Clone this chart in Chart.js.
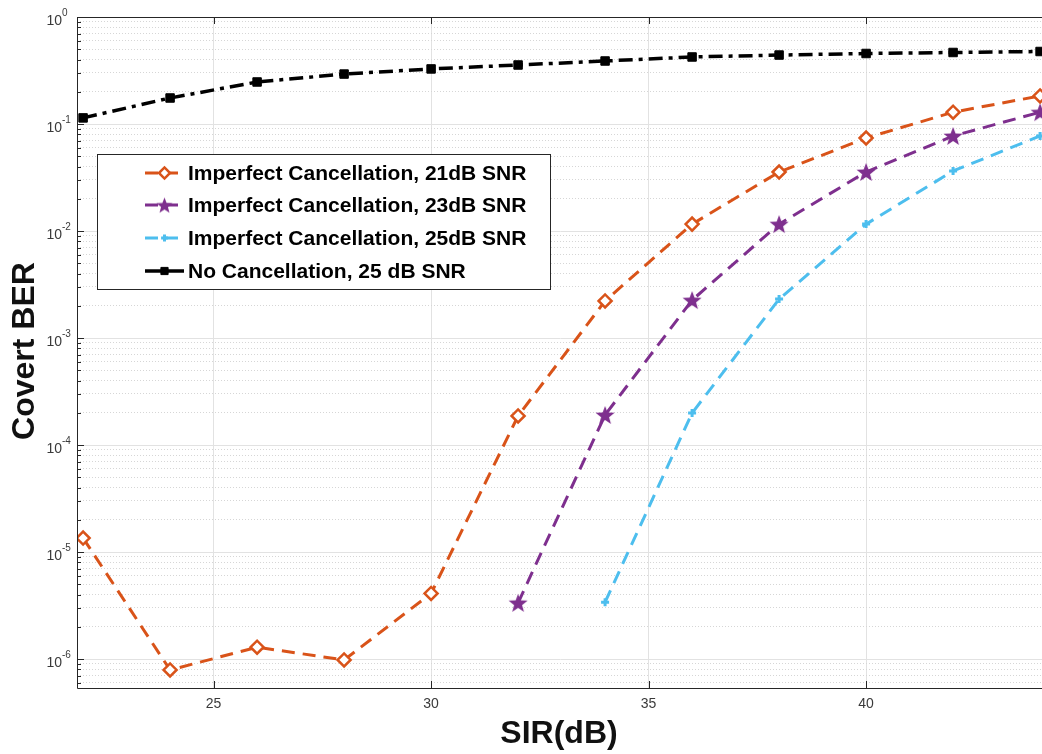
<!DOCTYPE html>
<html>
<head>
<meta charset="utf-8">
<script src="https://cdn.jsdelivr.net/npm/chart.js@4.4.0/dist/chart.umd.min.js"></script>
<style>
  html, body { margin: 0; padding: 0; background: #fff; overflow: hidden; }
</style>
</head>
<body>
<canvas id="ber" width="1044" height="754"></canvas>
<script>
// SIR sweep (dB) and measured covert BER for each receiver setting
const sirDb = [22, 24, 26, 28, 30, 32, 34, 36, 38, 40, 42, 44];
const berImperfect21 = [1.35e-5, 7.9e-7, 1.29e-6, 9.8e-7, 4.1e-6, 1.87e-4, 2.22e-3, 0.0116, 0.0356, 0.074, 0.129, 0.183];
const berImperfect23 = [null, null, null, null, null, 3.35e-6, 1.91e-4, 2.26e-3, 0.0116, 0.0356, 0.0773, 0.129];
const berImperfect25 = [null, null, null, null, null, null, 3.4e-6, 1.99e-4, 2.31e-3, 0.0116, 0.0364, 0.0773];
const berNoCancel = [0.114, 0.175, 0.247, 0.293, 0.327, 0.356, 0.388, 0.423, 0.441, 0.456, 0.466, 0.476];

const seriesLabels = [
    'Imperfect Cancellation, 21dB SNR',
    'Imperfect Cancellation, 23dB SNR',
    'Imperfect Cancellation, 25dB SNR',
    'No Cancellation, 25 dB SNR'
];
const xTickValues = [25, 30, 35, 40];
const yDecades = [-6, -5, -4, -3, -2, -1, 0];

const AXIS_COLOR = '#262626';
const LABEL_COLOR = '#3a3a3a';
const FONT = '"Liberation Sans", Arial, Helvetica, sans-serif';

function toPoints(values) {
    return sirDb.map((x, i) => ({ x: x, y: values[i] })).filter(p => p.y !== null);
}

// filled pentagram used as the 23 dB marker
function starMarker(color, r) {
    const c = document.createElement('canvas');
    const s = Math.ceil(r * 2 + 2);
    c.width = s;
    c.height = s;
    const g = c.getContext('2d');
    g.translate(s / 2, s / 2 + 0.9);
    g.beginPath();
    for (let i = 0; i < 10; i++) {
        const rad = i % 2 ? r * 0.42 : r;
        const a = -Math.PI / 2 + i * Math.PI / 5;
        g.lineTo(rad * Math.cos(a), rad * Math.sin(a));
    }
    g.closePath();
    g.fillStyle = color;
    g.fill();
    return c;
}

const purpleStar = starMarker('#7E2F8E', 10);
const purpleStarSmall = starMarker('#7E2F8E', 8.5);

const datasets = [
    {
        label: seriesLabels[0],
        data: toPoints(berImperfect21),
        borderColor: '#D95319',
        borderWidth: 3,
        borderDash: [13, 8],
        pointStyle: 'rectRot',
        pointRadius: 6.5,
        pointBorderWidth: 2.5,
        pointBorderColor: '#D95319',
        pointBackgroundColor: '#ffffff'
    },
    {
        label: seriesLabels[1],
        data: toPoints(berImperfect23),
        borderColor: '#7E2F8E',
        borderWidth: 3,
        borderDash: [13, 8],
        pointStyle: purpleStar,
        pointRadius: 10,
        pointBorderColor: '#7E2F8E',
        pointBackgroundColor: '#7E2F8E'
    },
    {
        label: seriesLabels[2],
        data: toPoints(berImperfect25),
        borderColor: '#4DBEEE',
        borderWidth: 3,
        borderDash: [13, 8],
        pointStyle: 'cross',
        pointRadius: 4,
        pointBorderWidth: 3,
        pointBorderColor: '#4DBEEE',
        pointBackgroundColor: '#4DBEEE'
    },
    {
        label: seriesLabels[3],
        data: toPoints(berNoCancel),
        borderColor: '#000000',
        borderWidth: 3.5,
        borderDash: [14, 6, 4, 6],
        pointStyle: 'rect',
        pointRadius: 6,
        pointBorderWidth: 1,
        pointBorderColor: '#000000',
        pointBackgroundColor: '#000000'
    }
];

// box, inward ticks, tick labels and titles in the MATLAB look
const axesFrame = {
    id: 'axesFrame',
    afterDraw(chart) {
        const ctx = chart.ctx;
        const area = chart.chartArea;
        const xs = chart.scales.x;
        const ys = chart.scales.y;
        ctx.save();

        ctx.strokeStyle = AXIS_COLOR;
        ctx.lineWidth = 1;
        ctx.setLineDash([]);
        ctx.beginPath();
        ctx.moveTo(area.left + 0.5, area.bottom + 0.5);
        ctx.lineTo(area.left + 0.5, area.top + 0.5);
        ctx.lineTo(area.right + 0.5, area.top + 0.5);
        ctx.moveTo(area.left + 0.5, area.bottom + 0.5);
        ctx.lineTo(area.right + 0.5, area.bottom + 0.5);
        ctx.stroke();

        ctx.beginPath();
        ys.ticks.forEach(t => {
            const py = Math.round(ys.getPixelForValue(t.value)) + 0.5;
            const len = t.major ? 7 : 4;
            ctx.moveTo(area.left, py);
            ctx.lineTo(area.left + len, py);
        });
        xTickValues.forEach(v => {
            const px = Math.round(xs.getPixelForValue(v)) + 0.5;
            ctx.moveTo(px, area.bottom);
            ctx.lineTo(px, area.bottom - 7);
            ctx.moveTo(px, area.top);
            ctx.lineTo(px, area.top + 7);
        });
        ctx.stroke();

        ctx.fillStyle = LABEL_COLOR;
        ctx.font = '14px ' + FONT;
        ctx.textAlign = 'center';
        ctx.textBaseline = 'middle';
        xTickValues.forEach(v => {
            ctx.fillText(String(v), xs.getPixelForValue(v), area.bottom + 16);
        });

        yDecades.forEach(k => {
            const py = ys.getPixelForValue(Math.pow(10, k));
            const edge = area.left - 15;
            ctx.font = '14px ' + FONT;
            ctx.textAlign = 'right';
            ctx.fillText('10', edge, py + 4);
            ctx.font = '10px ' + FONT;
            ctx.textAlign = 'left';
            ctx.fillText(String(k), edge, py - 4);
        });

        ctx.fillStyle = '#111111';
        ctx.font = 'bold 32px ' + FONT;
        ctx.textAlign = 'center';
        ctx.textBaseline = 'alphabetic';
        ctx.fillText('SIR(dB)', 559, 743);

        ctx.translate(34, 351);
        ctx.rotate(-Math.PI / 2);
        ctx.fillText('Covert BER', 0, 0);
        ctx.restore();
    }
};

// boxed legend placed inside the axes
const boxedLegend = {
    id: 'boxedLegend',
    afterDraw(chart) {
        const ctx = chart.ctx;
        const box = { left: 97, top: 154, right: 550, bottom: 289 };
        const rows = [173, 205, 238, 271];
        ctx.save();
        ctx.fillStyle = '#ffffff';
        ctx.fillRect(box.left, box.top, box.right - box.left, box.bottom - box.top);
        ctx.strokeStyle = AXIS_COLOR;
        ctx.lineWidth = 1;
        ctx.strokeRect(box.left + 0.5, box.top + 0.5, box.right - box.left, box.bottom - box.top);

        chart.data.datasets.forEach((ds, i) => {
            const y = rows[i];
            ctx.strokeStyle = ds.borderColor;
            ctx.lineWidth = ds.borderWidth;
            ctx.setLineDash(i === 3 ? [] : [13, 7]);
            ctx.beginPath();
            ctx.moveTo(145, y);
            ctx.lineTo(184, y);
            ctx.stroke();
            ctx.setLineDash([]);
            ctx.fillStyle = ds.pointBackgroundColor;
            ctx.strokeStyle = ds.pointBorderColor;
            ctx.lineWidth = ds.pointBorderWidth || 1;
            Chart.helpers.drawPoint(ctx, {
                pointStyle: i === 1 ? purpleStarSmall : ds.pointStyle,
                radius: ds.pointRadius * 0.85,
                rotation: 0,
                borderWidth: ds.pointBorderWidth || 1
            }, 164.5, y);

            ctx.fillStyle = '#000000';
            ctx.font = 'bold 21px ' + FONT;
            ctx.textAlign = 'left';
            ctx.textBaseline = 'middle';
            ctx.fillText(ds.label, 188, y + 1);
        });
        ctx.restore();
    }
};

function decadeTicks(scale) {
    const ticks = [];
    for (let k = -7; k <= 0; k++) {
        for (let m = 1; m <= 9; m++) {
            const v = m * Math.pow(10, k);
            if (v >= scale.min * 0.999 && v <= scale.max * 1.001) {
                ticks.push({ value: v, major: m === 1 });
            }
        }
    }
    scale.ticks = ticks;
}

new Chart(document.getElementById('ber'), {
    type: 'line',
    data: { datasets: datasets },
    options: {
        responsive: false,
        animation: false,
        devicePixelRatio: 1,
        layout: { autoPadding: false, padding: { left: 77, top: 17, right: 0, bottom: 66 } },
        plugins: {
            legend: { display: false },
            tooltip: { enabled: false }
        },
        elements: { line: { tension: 0 } },
        scales: {
            x: {
                type: 'linear',
                min: 21.86,
                max: 44.09,
                afterBuildTicks: axis => {
                    axis.ticks = xTickValues.map(v => ({ value: v }));
                },
                ticks: { display: false },
                grid: { drawTicks: false, color: '#e2e2e2', lineWidth: 1 },
                border: { display: false }
            },
            y: {
                type: 'logarithmic',
                min: 5.36e-7,
                max: 1,
                afterBuildTicks: decadeTicks,
                ticks: { display: false },
                grid: {
                    drawTicks: false,
                    lineWidth: 1,
                    color: ctx => (ctx.tick && ctx.tick.major) ? '#e2e2e2' : '#d6d6d6'
                },
                border: {
                    display: false,
                    dash: ctx => (ctx.tick && !ctx.tick.major) ? [1, 2] : []
                }
            }
        }
    },
    plugins: [axesFrame, boxedLegend]
});
</script>
</body>
</html>
